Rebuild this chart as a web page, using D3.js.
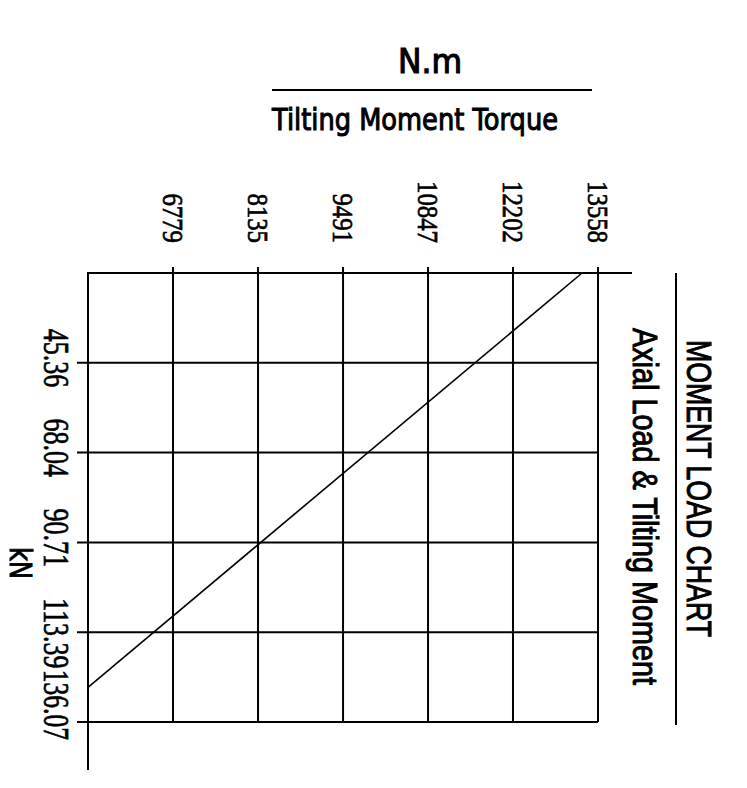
<!DOCTYPE html>
<html><head><meta charset="utf-8">
<script src="https://cdn.jsdelivr.net/npm/d3@7"></script>
<style>body{margin:0;background:#fff}svg{display:block}</style>
</head><body><svg id="c" width="747" height="788"></svg>
<script>
// ---- data ----
const momentTicks = [6779, 8135, 9491, 10847, 12202, 13558];   // N.m
const loadTicks = [45.36, 68.04, 90.71, 113.39, 136.07];        // kN
const momentDomain = [5423, 13558];
const loadDomain = [22.68, 136.07];
const lineMoment = [5423, 13304];
const lineLoad = [127.3, 22.68];
const titleMain = "MOMENT LOAD CHART";
const titleSub = "Axial Load & Tilting Moment";
const xUnit = "N.m";
const xTitle = "Tilting Moment Torque";
const yUnit = "kN";

// ---- drawing ----
const svg = d3.select("#c");
const x = d3.scaleLinear().domain(momentDomain).range([88, 598]);
const y = d3.scaleLinear().domain(loadDomain).range([273, 722]);
const black = "#000";

// vertical grid lines with ticks above top edge
svg.append("g").selectAll("line").data(momentTicks).join("line")
  .attr("x1", d => x(d)).attr("x2", d => x(d))
  .attr("y1", y.range()[0] - 6).attr("y2", y(loadTicks[loadTicks.length - 1]))
  .attr("stroke", black).attr("stroke-width", 2);

// horizontal grid lines with ticks left of axis
svg.append("g").selectAll("line").data(loadTicks).join("line")
  .attr("x1", x.range()[0] - 11).attr("x2", x(momentTicks[momentTicks.length - 1]))
  .attr("y1", d => y(d)).attr("y2", d => y(d))
  .attr("stroke", black).attr("stroke-width", 2);

// top axis line
svg.append("line").attr("x1", x.range()[0] - 1).attr("x2", 632)
  .attr("y1", y.range()[0]).attr("y2", y.range()[0])
  .attr("stroke", black).attr("stroke-width", 2);
// left axis line
svg.append("line").attr("x1", x.range()[0]).attr("x2", x.range()[0])
  .attr("y1", y.range()[0]).attr("y2", 770)
  .attr("stroke", black).attr("stroke-width", 2);

// the load line
const pts = lineMoment.map((m, i) => [x(m), y(lineLoad[i])]);
svg.append("path").attr("d", d3.line()(pts))
  .attr("fill", "none").attr("stroke", black).attr("stroke-width", 1.6);

// moment tick labels (rotated 90deg)
svg.append("g").selectAll("text").data(momentTicks).join("text")
  .attr("transform", d => `translate(${x(d) - 10},243) rotate(90)`)
  .attr("text-anchor", "end")
  .attr("font-family", "Liberation Serif")
  .attr("font-size", 30)
  .attr("stroke", black).attr("stroke-width", 0.7)
  .attr("textLength", d => String(d).length * 12.4)
  .attr("lengthAdjust", "spacingAndGlyphs")
  .text(d => d);

// load tick labels (rotated 90deg)
svg.append("g").selectAll("text").data(loadTicks).join("text")
  .each(function(d) {
    const s = d.toFixed(2);
    const len = s.length * 11.7;
    const start = Math.min(y(d) - 34, 740 - len);
    d3.select(this)
      .attr("transform", `translate(44,${start}) rotate(90)`)
      .attr("text-anchor", "start")
      .attr("font-family", "Liberation Serif")
      .attr("font-size", 36)
      .attr("stroke", black).attr("stroke-width", 0.7)
      .attr("textLength", len)
      .attr("lengthAdjust", "spacingAndGlyphs")
      .text(s);
  });

// right titles
svg.append("text").attr("transform", "translate(687,340) rotate(90)")
  .attr("font-family", "Liberation Sans").attr("font-size", 35)
  .attr("stroke", black).attr("stroke-width", 1)
  .attr("textLength", 297).attr("lengthAdjust", "spacingAndGlyphs")
  .text(titleMain);
svg.append("line").attr("x1", 676).attr("x2", 676).attr("y1", 273).attr("y2", 725)
  .attr("stroke", black).attr("stroke-width", 2);
svg.append("text").attr("transform", "translate(633,328) rotate(90)")
  .attr("font-family", "Liberation Sans").attr("font-size", 35)
  .attr("stroke", black).attr("stroke-width", 1)
  .attr("textLength", 357).attr("lengthAdjust", "spacingAndGlyphs")
  .text(titleSub);

// top titles
svg.append("text").attr("x", 398).attr("y", 73)
  .attr("font-family", "DejaVu Sans").attr("font-size", 34)
  .attr("stroke", black).attr("stroke-width", 1.2)
  .attr("textLength", 64).attr("lengthAdjust", "spacingAndGlyphs")
  .text(xUnit);
svg.append("line").attr("x1", 272).attr("x2", 592).attr("y1", 90).attr("y2", 90)
  .attr("stroke", black).attr("stroke-width", 2);
svg.append("text").attr("x", 272).attr("y", 130)
  .attr("font-family", "DejaVu Sans").attr("font-size", 30)
  .attr("stroke", black).attr("stroke-width", 1.1)
  .attr("textLength", 286).attr("lengthAdjust", "spacingAndGlyphs")
  .text(xTitle);

// y unit
svg.append("text").attr("transform", "translate(10,547) rotate(90)")
  .attr("font-family", "DejaVu Sans").attr("font-size", 30)
  .attr("stroke", black).attr("stroke-width", 1)
  .attr("textLength", 32).attr("lengthAdjust", "spacingAndGlyphs")
  .text(yUnit);
</script></body></html>
